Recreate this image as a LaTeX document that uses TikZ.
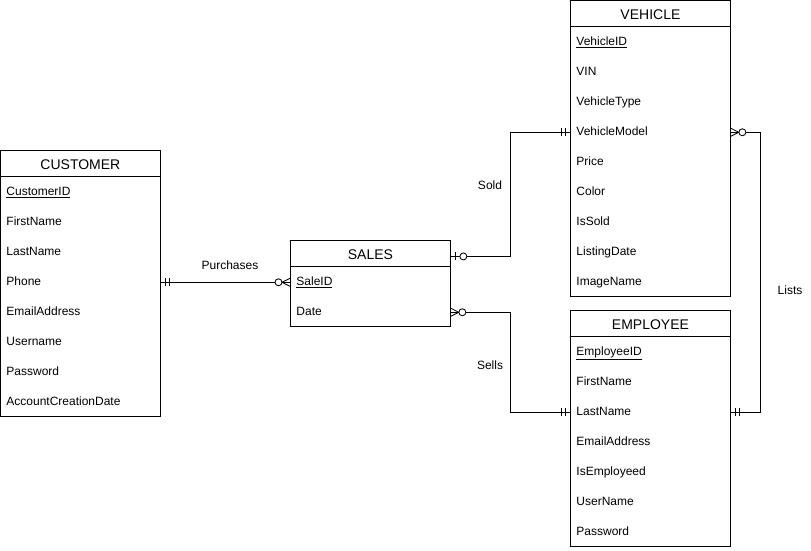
\documentclass[tikz,border=0pt]{standalone}
\usepackage{fontspec}
\setmainfont{Liberation Sans}
\usetikzlibrary{calc}
\tikzset{
  x=1pt, y=-1pt,
  every path/.style={line width=0.85pt},
  hdr/.style={minimum width=160pt, minimum height=26pt, inner sep=0pt, text height=12pt, text depth=0pt, anchor=north west, font=\fontsize{14}{16}\selectfont},
  rowc/.style={minimum width=160pt, minimum height=30pt, inner sep=0pt, text width=148pt, text height=9pt, text depth=2pt, align=left, anchor=north west, font=\fontsize{12}{14}\selectfont},
  lbl/.style={font=\fontsize{12}{14}\selectfont, inner sep=1pt},
  mone/.pic={\draw (5,-4)--(5,4) (9,-4)--(9,4);},
  zmany/.pic={\draw (0,-4)--(8,0)--(0,4); \draw[fill=white] (11.5,0) circle[radius=3.5];},
  zone/.pic={\draw (5,-4)--(5,4); \draw[fill=white] (12.5,0) circle[radius=3.5];},
}
\newcommand\erentity[6]{% name, title, x, y, nrows, rows
  \node[hdr] (#1) at (#3,#4) {#2};
  \foreach \t [count=\i] in {#6} {\node[rowc] (#1-\i) at ($(#1.south west)+(0,30*\i-30)$) {\t};}
  \draw (#3,#4) rectangle ++(160,26+30*#5);
  \draw (#1.south west) -- (#1.south east);
}
\begin{document}
\begin{tikzpicture}
\useasboundingbox (0,0) rectangle (811,550);
\erentity{cust}{CUSTOMER}{0}{150}{8}{\underline{CustomerID},FirstName,LastName,Phone,EmailAddress,Username,Password,AccountCreationDate}
\erentity{sales}{SALES}{290}{240}{2}{\underline{SaleID},Date}
\erentity{veh}{VEHICLE}{570}{0}{9}{\underline{VehicleID},VIN,VehicleType,VehicleModel,Price,Color,IsSold,ListingDate,ImageName}
\erentity{emp}{EMPLOYEE}{570}{310}{7}{\underline{EmployeeID},FirstName,LastName,EmailAddress,IsEmployeed,UserName,Password}

\coordinate (soldS) at ($(sales.east)+(0,3)$);
\draw (cust-4.east) -- (sales-1.west);
\draw (soldS) -- ++(60,0) |- (veh-4.west);
\draw (sales-2.east) -- ++(60,0) |- (emp-3.west);
\draw (veh-4.east) -- ++(30,0) |- (emp-3.east);

\pic at (cust-4.east) {mone};
\pic[xscale=-1] at (sales-1.west) {zmany};
\pic at (soldS) {zone};
\pic[xscale=-1] at (veh-4.west) {mone};
\pic at (sales-2.east) {zmany};
\pic[xscale=-1] at (emp-3.west) {mone};
\pic at (veh-4.east) {zmany};
\pic at (emp-3.east) {mone};

\node[lbl] (lpur) at (230,265) {Purchases};
\node[lbl] (lsold) at (490,185) {Sold};
\node[lbl] (lsells) at (490,365) {Sells};
\node[lbl] (llists) at (790,290) {Lists};
\end{tikzpicture}
\end{document}
